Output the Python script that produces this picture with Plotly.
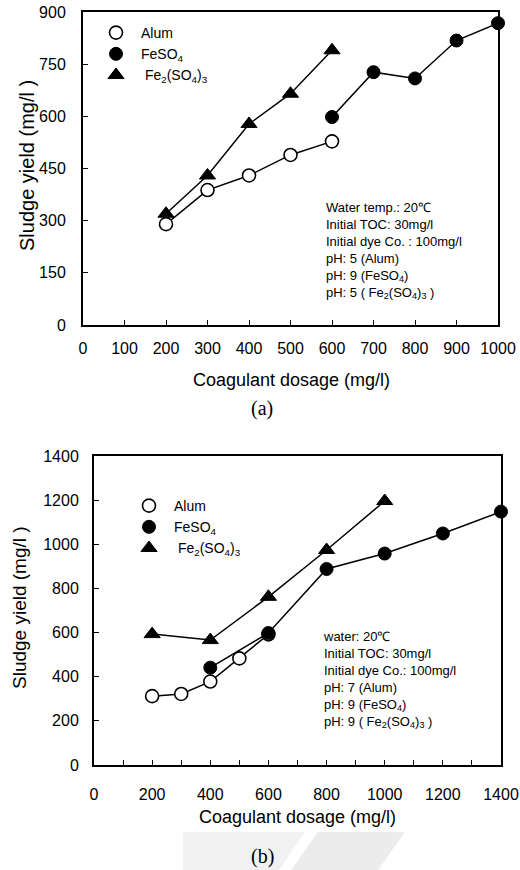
import plotly.graph_objects as go

# ---------------- data (a) ----------------
a_alum_x = [200, 300, 400, 500, 600]
a_alum_y = [290, 388, 430, 489, 528]
a_feso4_x = [600, 700, 800, 900, 1000]
a_feso4_y = [598, 727, 709, 818, 868]
a_fe2_x = [200, 300, 400, 500, 600]
a_fe2_y = [320, 430, 578, 665, 790]

# ---------------- data (b) ----------------
b_alum_x = [200, 300, 400, 500, 600]
b_alum_y = [312, 322, 378, 483, 592]
b_feso4_x = [400, 600, 800, 1000, 1200, 1400]
b_feso4_y = [441, 598, 888, 958, 1049, 1148]
b_fe2_x = [200, 400, 600, 800, 1000]
b_fe2_y = [593, 566, 762, 974, 1196]

legend_names = ["Alum", "FeSO<sub>4</sub>", " Fe<sub>2</sub>(SO<sub>4</sub>)<sub>3</sub>"]

a_notes = ["Water temp.: 20℃", "Initial TOC: 30mg/l", "Initial dye Co. : 100mg/l",
           "pH: 5 (Alum)", "pH: 9 (FeSO<sub>4</sub>)", "pH: 5 ( Fe<sub>2</sub>(SO<sub>4</sub>)<sub>3</sub> )"]
b_notes = ["water: 20℃", "Initial TOC: 30mg/l", "Initial dye Co.: 100mg/l",
           "pH: 7 (Alum)", "pH: 9 (FeSO<sub>4</sub>)", "pH: 9 ( Fe<sub>2</sub>(SO<sub>4</sub>)<sub>3</sub> )"]

W, H = 520, 870
FONT = "Liberation Sans, Arial, sans-serif"

def px(x):
    return x / W

def py(y):
    return 1 - y / H

fig = go.Figure()

styles = {
    "alum": dict(symbol="circle", size=13, color="white", line=dict(color="black", width=1.6)),
    "feso4": dict(symbol="circle", size=13, color="black", line=dict(color="black", width=1)),
    "fe2": dict(symbol="triangle-up", size=14, color="black", line=dict(color="black", width=1)),
}

def add_series(x, y, key, xa, ya):
    fig.add_trace(go.Scatter(x=x, y=y, mode="lines+markers", xaxis=xa, yaxis=ya,
                             line=dict(color="black", width=1.5),
                             marker=styles[key], showlegend=False, cliponaxis=False))

add_series(a_alum_x, a_alum_y, "alum", "x", "y")
add_series(a_fe2_x, a_fe2_y, "fe2", "x", "y")
add_series(a_feso4_x, a_feso4_y, "feso4", "x", "y")
add_series(b_alum_x, b_alum_y, "alum", "x2", "y2")
add_series(b_fe2_x, b_fe2_y, "fe2", "x2", "y2")
add_series(b_feso4_x, b_feso4_y, "feso4", "x2", "y2")

# legend-only entries
for lg, xa, ya in [("legend", "x", "y"), ("legend2", "x2", "y2")]:
    for key, name in zip(["alum", "feso4", "fe2"], legend_names):
        fig.add_trace(go.Scatter(x=[None], y=[None], mode="markers", name=name,
                                 marker=styles[key], xaxis=xa, yaxis=ya, legend=lg,
                                 showlegend=True))

axis_common = dict(showline=True, linecolor="black", linewidth=2, mirror=True,
                   showgrid=False, zeroline=False, ticks="inside", ticklen=5,
                   tickcolor="black", tickwidth=1.2, fixedrange=True, automargin=False)

fig.update_layout(
    width=W, height=H,
    margin=dict(l=0, r=0, t=0, b=0, pad=0, autoexpand=False),
    paper_bgcolor="white", plot_bgcolor="white",
    font=dict(family=FONT, color="black"),
    xaxis=dict(domain=[px(83), px(498)], range=[0, 1000], dtick=100, anchor="y",
               tickfont=dict(size=16), ticklabelstandoff=8, **axis_common),
    yaxis=dict(domain=[py(325), py(12)], range=[0, 900], dtick=150, anchor="x",
               tickfont=dict(size=16), ticklabelstandoff=12, **axis_common),
    xaxis2=dict(domain=[px(94), px(501)], range=[0, 1400], dtick=200, anchor="y2",
                tickfont=dict(size=16), ticklabelstandoff=14,
                minor=dict(dtick=100, ticks="inside", ticklen=5, tickcolor="black"),
                **axis_common),
    yaxis2=dict(domain=[py(765), py(456)], range=[0, 1400], dtick=200, anchor="x2",
                tickfont=dict(size=16), ticklabelstandoff=10, **axis_common),
    legend=dict(x=px(91), y=py(17), xanchor="left", yanchor="top",
                font=dict(size=14, family=FONT), bgcolor="rgba(0,0,0,0)",
                tracegroupgap=0, itemsizing="trace", itemwidth=40),
    legend2=dict(x=px(124), y=py(490), xanchor="left", yanchor="top",
                 font=dict(size=14, family=FONT), bgcolor="rgba(0,0,0,0)",
                 tracegroupgap=2, itemsizing="trace", itemwidth=40),
)

def label(text, x, y, size, angle=0, family=None):
    f = dict(size=size)
    if family:
        f["family"] = family
    return dict(text=text, x=px(x), y=py(y), xref="paper", yref="paper",
                xanchor="center", yanchor="middle", textangle=angle,
                showarrow=False, font=f)

SERIF = "Liberation Serif, DejaVu Serif, serif"
ann = [
    label("Sludge yield (mg/l )", 27, 166, 20, -90),
    label("Coagulant dosage (mg/l)", 291, 380, 18),
    label("Sludge yield (mg/l )", 19, 608, 19, -90),
    label("Coagulant dosage (mg/l)", 297, 817, 18),
    label("(a)", 262, 408, 20, family=SERIF),
    label("(b)", 262, 856, 20, family=SERIF),
]
# notes
ann.append(dict(text="<br>".join(a_notes), x=px(324), y=py(198), xref="paper", yref="paper",
                xanchor="left", yanchor="top", align="left", showarrow=False,
                font=dict(size=13)))
ann.append(dict(text="<br>".join(b_notes), x=px(321), y=py(627), xref="paper", yref="paper",
                xanchor="left", yanchor="top", align="left", showarrow=False,
                font=dict(size=13)))
fig.update_layout(annotations=ann)

# faint watermark shapes under panel (b)
def poly(pts):
    return "M " + " L ".join(f"{px(x)},{py(y)}" for x, y in pts) + " Z"

fig.add_shape(type="path", xref="paper", yref="paper",
              path=poly([(183, 832), (305, 832), (279, 870), (183, 870)]),
              fillcolor="#f1f1f1", line=dict(width=0), layer="below")
fig.add_shape(type="path", xref="paper", yref="paper",
              path=poly([(318, 832), (405, 832), (378, 870), (291, 870)]),
              fillcolor="#ececec", line=dict(width=0), layer="below")

fig.write_html("out.html")
